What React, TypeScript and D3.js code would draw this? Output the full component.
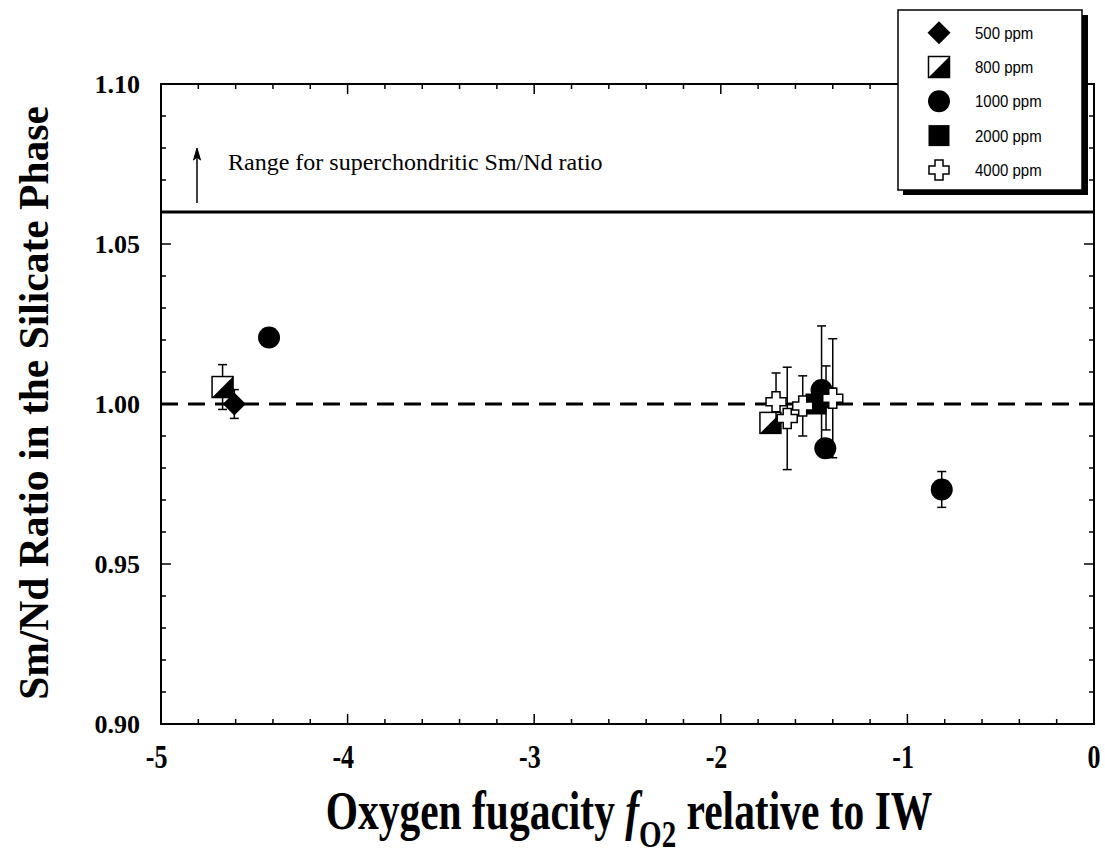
import React from "react";
import * as d3 from "d3";

type Pt = { x: number; y: number; e: number };

const series500: Pt[] = [{ x: -4.607, y: 1.0, e: 0.0045 }];
const series800: Pt[] = [
  { x: -4.67, y: 1.0053, e: 0.007 },
  { x: -1.734, y: 0.9941, e: 0 },
];
const series1000: Pt[] = [
  { x: -4.421, y: 1.0208, e: 0 },
  { x: -1.46, y: 1.0044, e: 0.02 },
  { x: -1.44, y: 0.9862, e: 0 },
  { x: -0.816, y: 0.9733, e: 0.0056 },
];
const series2000: Pt[] = [
  { x: -1.49, y: 1.0, e: 0 },
  { x: -1.436, y: 1.0019, e: 0.01 },
];
const series4000: Pt[] = [
  { x: -1.704, y: 1.0007, e: 0.009 },
  { x: -1.644, y: 0.9955, e: 0.016 },
  { x: -1.561, y: 0.9994, e: 0.0094 },
  { x: -1.4, y: 1.0018, e: 0.0186 },
];

const legendLabels = ["500 ppm", "800 ppm", "1000 ppm", "2000 ppm", "4000 ppm"];
const markerTypes = ["diamond", "half", "circle", "square", "cross"];
const xTicks = [-5, -4, -3, -2, -1, 0];
const yTicks = [0.9, 0.95, 1.0, 1.05, 1.1];
const superLine = 1.06;
const refLine = 1.0;

const L = 161, R = 1094, T = 84, B = 724;
const xS = d3.scaleLinear().domain([-5, 0]).range([L, R]);
const yS = d3.scaleLinear().domain([0.9, 1.1]).range([B, T]);

function Marker({ type, cx, cy }: { type: string; cx: number; cy: number }) {
  if (type === "diamond") {
    const h = 11.5;
    return <path d={`M${cx},${cy - h}L${cx + h},${cy}L${cx},${cy + h}L${cx - h},${cy}Z`} fill="#000" />;
  }
  if (type === "half") {
    const h = 10.5;
    return (
      <g>
        <rect x={cx - h} y={cy - h} width={2 * h} height={2 * h} fill="#fff" stroke="#000" strokeWidth={1.5} />
        <path d={`M${cx - h},${cy + h}L${cx + h},${cy - h}L${cx + h},${cy + h}Z`} fill="#000" />
      </g>
    );
  }
  if (type === "circle") return <circle cx={cx} cy={cy} r={11} fill="#000" />;
  if (type === "square") {
    const h = 10.5;
    return <rect x={cx - h} y={cy - h} width={2 * h} height={2 * h} fill="#000" />;
  }
  const a = 10, b = 4;
  const d = `M${cx - b},${cy - a}H${cx + b}V${cy - b}H${cx + a}V${cy + b}H${cx + b}V${cy + a}H${cx - b}V${cy + b}H${cx - a}V${cy - b}H${cx - b}Z`;
  return <path d={d} fill="#fff" stroke="#000" strokeWidth={1.5} />;
}

function Series({ data, type }: { data: Pt[]; type: string }) {
  return (
    <g>
      {data.map((p, i) =>
        p.e > 0 ? (
          <g key={"e" + i} stroke="#000" strokeWidth={1.5}>
            <line x1={xS(p.x)} x2={xS(p.x)} y1={yS(p.y - p.e)} y2={yS(p.y + p.e)} />
            <line x1={xS(p.x) - 4.5} x2={xS(p.x) + 4.5} y1={yS(p.y - p.e)} y2={yS(p.y - p.e)} />
            <line x1={xS(p.x) - 4.5} x2={xS(p.x) + 4.5} y1={yS(p.y + p.e)} y2={yS(p.y + p.e)} />
          </g>
        ) : null
      )}
      {data.map((p, i) => (
        <Marker key={"m" + i} type={type} cx={xS(p.x)} cy={yS(p.y)} />
      ))}
    </g>
  );
}

export default function App() {
  const xMinor = d3.range(-5, 0.0001, 0.2);
  const yMinor = d3.range(0.9, 1.1001, 0.01);
  const serif = "'Liberation Serif', 'Times New Roman', serif";
  const sans = "'Liberation Sans', Arial, sans-serif";
  const tfs = 26;
  return (
    <svg width={1105} height={854} style={{ position: "absolute", left: 0, top: 0 }}>
      <rect width={1105} height={854} fill="#fff" />
      {/* ticks */}
      <g stroke="#000" strokeWidth={1.5}>
        {xMinor.map((v, i) => {
          const major = Math.abs(v - Math.round(v)) < 1e-6;
          const len = major ? 10 : 5;
          return (
            <g key={"xt" + i}>
              <line x1={xS(v)} x2={xS(v)} y1={B} y2={B - len} />
              <line x1={xS(v)} x2={xS(v)} y1={T} y2={T + len} />
            </g>
          );
        })}
        {yMinor.map((v, i) => {
          const major = i % 5 === 0;
          const len = major ? 10 : 5;
          return (
            <g key={"yt" + i}>
              <line x1={L} x2={L + len} y1={yS(v)} y2={yS(v)} />
              <line x1={R} x2={R - len} y1={yS(v)} y2={yS(v)} />
            </g>
          );
        })}
      </g>
      <rect x={L} y={T} width={R - L} height={B - T} fill="none" stroke="#000" strokeWidth={2} />
      {/* reference lines */}
      <line x1={L} x2={R} y1={yS(superLine)} y2={yS(superLine)} stroke="#000" strokeWidth={3} />
      <line x1={L} x2={R} y1={yS(refLine)} y2={yS(refLine)} stroke="#000" strokeWidth={3} strokeDasharray="17,10" />
      {/* arrow & annotation */}
      <line x1={197} x2={197} y1={203} y2={156} stroke="#000" strokeWidth={1.5} />
      <path d="M197,148L200.5,160L197,157L193.5,160Z" fill="#000" stroke="#000" strokeWidth={1} />
      <text x={228} y={170} fontFamily={serif} fontSize={24}>Range for superchondritic Sm/Nd ratio</text>
      {/* tick labels */}
      {yTicks.map((v) => (
        <text key={"yl" + v} x={140} y={yS(v) + 9} textAnchor="end" fontFamily={serif} fontWeight="bold" fontSize={tfs}>
          {v.toFixed(2)}
        </text>
      ))}
      {xTicks.map((v) => (
        <g key={"xl" + v} transform={`translate(${xS(v) + tfs * 0.25},768) scale(1,1.3)`}>
          <text x={0} y={0} textAnchor="end" fontFamily={serif} fontWeight="bold" fontSize={tfs}>
            {String(v)}
          </text>
        </g>
      ))}
      {/* axis titles */}
      <g transform="translate(629,829) scale(1,1.3)">
        <text x={0} y={0} textAnchor="middle" fontFamily={serif} fontWeight="bold" fontSize={41.5}>
          Oxygen fugacity <tspan fontStyle="italic">f</tspan>
          <tspan fontSize={29} dy={14}>O2</tspan>
          <tspan dy={-14}> relative to IW</tspan>
        </text>
      </g>
      <text transform={`translate(48,403) rotate(-90)`} textAnchor="middle" fontFamily={serif} fontWeight="bold" fontSize={41.5}>
        Sm/Nd Ratio in the Silicate Phase
      </text>
      {/* data */}
      <Series data={series500} type="diamond" />
      <Series data={series800} type="half" />
      <Series data={series1000} type="circle" />
      <Series data={series2000} type="square" />
      <Series data={series4000} type="cross" />
      {/* legend */}
      <rect x={903} y={15} width={185} height={180} fill="#000" />
      <rect x={898} y={10} width={184} height={180} fill="#fff" stroke="#000" strokeWidth={1.5} />
      {legendLabels.map((lab, i) => {
        const cy = 32.7 + i * 34.3;
        return (
          <g key={lab}>
            <Marker type={markerTypes[i]} cx={939} cy={cy} />
            <g transform={`translate(975,${cy + 6}) scale(1,1.15)`}>
              <text x={0} y={0} fontFamily={sans} fontSize={15}>{lab}</text>
            </g>
          </g>
        );
      })}
    </svg>
  );
}
